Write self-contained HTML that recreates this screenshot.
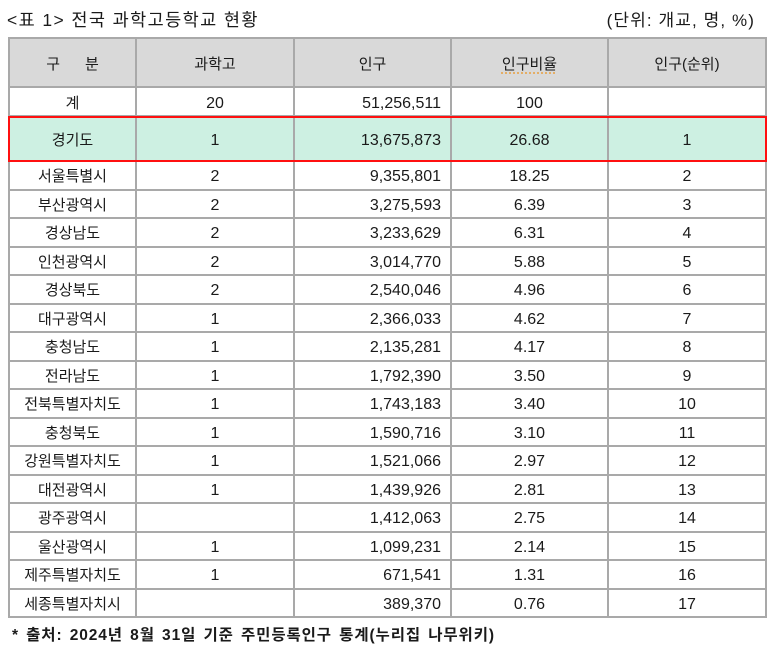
<!DOCTYPE html>
<html><head><meta charset="utf-8">
<style>
html,body{margin:0;padding:0;background:#fff;}
body{width:779px;height:651px;position:relative;overflow:hidden;font-family:"Liberation Sans","Noto Sans CJK KR",sans-serif;color:#1a1a1a;}
.t{position:absolute;white-space:nowrap;}
.title{left:7px;top:8px;font-size:17.5px;letter-spacing:1.4px;line-height:24px;}
.unit{right:24px;top:9px;font-size:17px;letter-spacing:1.1px;line-height:24px;}
.foot{left:12px;top:625px;font-size:15.5px;font-weight:bold;line-height:22px;letter-spacing:0.9px;word-spacing:2px;}
.bg{position:absolute;}
.vl{position:absolute;width:2px;background:#a9a9a9;}
.hl{position:absolute;height:2px;background:#a9a9a9;}
.c{position:absolute;display:flex;align-items:center;justify-content:center;font-size:15px;box-sizing:border-box;padding-top:1px;}
.n{font-size:16px;padding-top:4px;}
.r{justify-content:flex-end;padding-right:10px;}
.sq{text-decoration:underline dotted #e8a040;text-underline-offset:4px;}
</style></head><body>
<div class="t title">&lt;표 1&gt; 전국 과학고등학교 현황</div>
<div class="t unit">(단위: 개교, 명, %)</div>

<div class="bg" style="left:9px;top:38px;width:757px;height:49px;background:#d9d9d9;"></div>
<div class="bg" style="left:9px;top:116px;width:757px;height:45px;background:#cdf0e2;"></div>

<div id="lines"></div>
<div id="cells"></div>

<div class="bg" style="left:8px;top:116px;width:755px;height:42px;border:2px solid #ff1010;"></div>

<div class="t foot">* 출처: 2024년 8월 31일 기준 주민등록인구 통계(누리집 나무위키)</div>

<script>
(function(){
var xs=[9,136,294,451,608,766];
var ys=[38,87,116,161];
for(var k=1;k<=16;k++){ys.push(161+28.5*k);}
var L='';
for(var i=0;i<xs.length;i++){L+='<div class="vl" style="left:'+(xs[i]-1)+'px;top:37px;height:'+(617-37+1)+'px"></div>';}
for(var j=0;j<ys.length;j++){L+='<div class="hl" style="left:8px;top:'+(ys[j]-1)+'px;width:'+(767-8)+'px"></div>';}
document.getElementById('lines').innerHTML=L;
var rows=[
['구&nbsp;&nbsp;&nbsp;&nbsp;&nbsp;&nbsp;분','과학고','인구','<span class="sq">인구비율</span>','인구(순위)'],
['계','20','51,256,511','100',''],
['경기도','1','13,675,873','26.68','1'],
['서울특별시','2','9,355,801','18.25','2'],
['부산광역시','2','3,275,593','6.39','3'],
['경상남도','2','3,233,629','6.31','4'],
['인천광역시','2','3,014,770','5.88','5'],
['경상북도','2','2,540,046','4.96','6'],
['대구광역시','1','2,366,033','4.62','7'],
['충청남도','1','2,135,281','4.17','8'],
['전라남도','1','1,792,390','3.50','9'],
['전북특별자치도','1','1,743,183','3.40','10'],
['충청북도','1','1,590,716','3.10','11'],
['강원특별자치도','1','1,521,066','2.97','12'],
['대전광역시','1','1,439,926','2.81','13'],
['광주광역시','','1,412,063','2.75','14'],
['울산광역시','1','1,099,231','2.14','15'],
['제주특별자치도','1','671,541','1.31','16'],
['세종특별자치시','','389,370','0.76','17']
];
var H='';
for(var r=0;r<rows.length;r++){
  var top=ys[r], bot=(r+1<ys.length)?ys[r+1]:617;
  for(var c=0;c<5;c++){
    var cls='c';
    if(r>0 && c>0) cls+=' n';
    if(r>0 && c==2) cls+=' r';
    H+='<div class="'+cls+'" style="left:'+xs[c]+'px;width:'+(xs[c+1]-xs[c])+'px;top:'+(top)+'px;height:'+(bot-top)+'px">'+rows[r][c]+'</div>';
  }
}
document.getElementById('cells').innerHTML=H;
})();
</script>
</body></html>
